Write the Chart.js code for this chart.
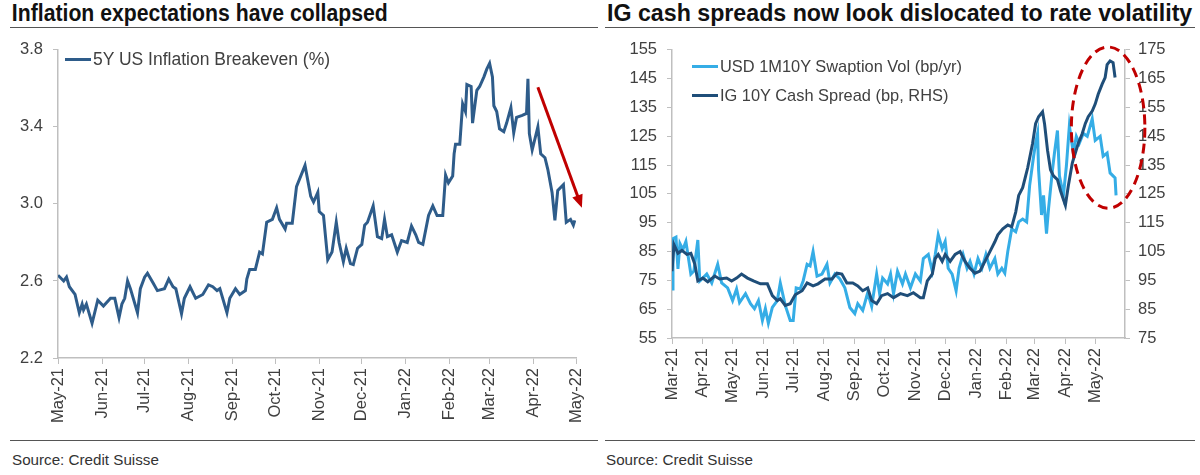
<!DOCTYPE html>
<html>
<head>
<meta charset="utf-8">
<script src="https://cdn.jsdelivr.net/npm/chart.js@4.4.0/dist/chart.umd.min.js"></script>
<style>
  html, body { margin: 0; padding: 0; background: #fff; }
  body { width: 1200px; height: 475px; position: relative; overflow: hidden; font-family: "Liberation Sans", Arial, sans-serif; color: #333; }
  .title { position: absolute; top: 0; height: 27px; line-height: 27px; border-bottom: 1.5px solid #555; overflow: visible; }
  .title span { display: inline-block; white-space: nowrap; transform-origin: 0 50%;
                font-family: "Liberation Sans", Arial, sans-serif; font-weight: bold; font-size: 23px; color: #111; padding-left: 2px; }
  .rule { position: absolute; top: 440px; height: 0; border-top: 1.5px solid #555; }
  .source { position: absolute; top: 451px; font-size: 15.2px; color: #333; }
  .box { position: absolute; top: 30px; width: 600px; height: 400px; }
  .legend { position: absolute; font-size: 17px; color: #404040; }
  .legend div { display: flex; align-items: center; height: 29px; white-space: nowrap; }
  .legend span.sw { display: inline-block; width: 26px; height: 3px; margin-right: 2px; }
</style>
</head>
<body>
<div class="title" style="left:10px;width:588px;"><span data-w="378">Inflation expectations have collapsed</span></div>
<div class="title" style="left:605px;width:590px;"><span data-w="587">IG cash spreads now look dislocated to rate volatility</span></div>

<div class="box" style="left:0;"><canvas id="leftChart"></canvas></div>
<div class="box" style="left:600px;"><canvas id="rightChart"></canvas></div>

<div class="legend" style="left:65px;top:45px;font-size:17.5px;">
  <div><span class="sw" style="background:#2E5C8A"></span>5Y US Inflation Breakeven (%)</div>
</div>
<div class="legend" style="left:692px;top:52px;font-size:16.4px;">
  <div><span class="sw" style="background:#35ADE6"></span>USD 1M10Y Swaption Vol (bp/yr)</div>
  <div><span class="sw" style="background:#1F4E79"></span>IG 10Y Cash Spread (bp, RHS)</div>
</div>

<div class="rule" style="left:10px;width:588px;"></div>
<div class="rule" style="left:605px;width:590px;"></div>
<div class="source" style="left:12px;">Source: Credit Suisse</div>
<div class="source" style="left:606px;">Source: Credit Suisse</div>

<script>
// --- Left chart data: 5Y US breakeven, days since 1 May 2021 ---
const beDays = [0,4,6,8,12,15,17,18,20,24,28,32,37,40,43,45,47,49,51,56,58,61,63,67,70,75,78,81,83,87,
  89,93,97,102,106,109,112,114,119,121,125,128,132,133,135,139,142,144,147,151,154,156,160,161,165,168,174,178,180,183,
  184,187,190,193,196,198,201,203,206,208,211,214,216,218,222,225,228,230,232,235,239,242,246,249,252,254,257,261,264,267,
  271,273,275,278,279,280,283,285,287,288,291,292,295,297,300,302,304,306,307,309,311,314,316,319,321,323,327,330,331,332,
  334,338,340,343,345,348,350,352,356,358,361,363,364];
const beValues = [2.63,2.60,2.62,2.57,2.53,2.435,2.48,2.45,2.48,2.38,2.50,2.47,2.51,2.51,2.41,2.48,2.51,2.60,2.56,2.435,
  2.56,2.62,2.64,2.59,2.55,2.56,2.61,2.57,2.56,2.43,2.51,2.57,2.51,2.53,2.58,2.57,2.55,2.56,2.435,2.51,
  2.56,2.53,2.55,2.61,2.66,2.66,2.75,2.74,2.905,2.92,2.98,2.92,2.87,2.90,2.90,3.09,3.20,3.04,3.01,3.06,
  2.96,2.94,2.71,2.75,2.905,2.80,2.70,2.77,2.69,2.685,2.77,2.79,2.89,2.905,2.99,2.83,2.82,2.92,2.83,2.84,
  2.75,2.81,2.80,2.885,2.84,2.80,2.79,2.94,2.99,2.94,2.94,3.15,3.11,3.145,3.26,3.31,3.31,3.52,3.48,3.62,
  3.61,3.42,3.59,3.61,3.66,3.70,3.73,3.66,3.51,3.48,3.39,3.375,3.42,3.50,3.37,3.45,3.46,3.47,3.65,3.365,
  3.28,3.40,3.26,3.24,3.18,3.06,2.915,3.07,3.10,2.905,2.92,2.89,2.915];
const leftMonths = ['May-21','Jun-21','Jul-21','Aug-21','Sep-21','Oct-21','Nov-21','Dec-21','Jan-22','Feb-22','Mar-22','Apr-22','May-22'];
const leftYTicks = [2.2, 2.6, 3.0, 3.4, 3.8];
// red arrow, in data units (day, %)
const leftArrow = [{x: 338, y: 3.606}, {x: 369, y: 2.98}];

// --- Right chart data: days since 1 Mar 2021 ---
const volDays = [0,1,4,6,8,11,14,16,19,22,26,28,31,35,40,46,50,56,61,65,68,74,79,83,87,91,94,97,101,106,
  109,114,119,122,125,129,132,136,139,142,146,151,156,159,164,169,174,179,184,187,192,197,201,206,209,212,217,220,223,227,
  232,235,240,245,250,253,258,262,265,268,272,275,278,282,286,289,293,297,300,304,308,312,316,320,325,328,332,335,338,342,
  346,349,353,357,360,364,366,368,369,372,374,377,379,383,385,388,390,394,397,400,404,407,410,414,418,423,426,431,434,438,
  441,446,447];
const volValues = [72,89.5,90,79,87.8,85.7,88.5,84,77.2,78.2,89,74.8,75.8,77.2,74.1,80.6,74.1,72.4,68,72,
  67.3,70.4,66.9,65.2,68,61.1,65.2,60.1,65.6,68,74.1,66.3,61.1,61.1,72.4,72,74.8,80.6,80,85,
  76.5,77.2,80.6,74.1,77.2,75.5,72.4,65.6,63.5,66.9,64.6,70.7,66,77.2,70.4,75.8,73.8,77.2,70.4,78.2,
  73.8,77.2,72.4,77.2,74.8,82.6,84,78.2,84,90.8,86,88.5,79.2,77.2,71.4,79.2,84,79.2,81.6,77.2,
  82.6,79.2,84,79.2,82.6,77.2,79.2,77.5,85,92.9,91.9,95.3,96.3,95.3,107.9,118.1,122.6,126,113.4,97.7,
  104.5,91.2,99.7,113.4,119.2,127,111.3,104.5,114.7,128.7,119.2,125,122.6,126,125,131.1,123.6,125,118.1,119.2,
  112.3,110.6,104.5];
const spreadDays = [0,2,6,10,15,19,23,26,31,36,43,48,55,60,65,70,76,82,89,96,101,106,109,114,119,124,131,136,142,147,
  154,161,166,171,176,182,187,192,197,201,206,211,217,223,230,237,243,250,253,257,262,265,268,272,275,280,285,290,295,300,
  305,310,315,320,325,328,333,338,342,346,349,353,356,358,363,366,369,373,375,378,381,384,388,391,394,396,399,403,406,409,
  413,416,419,423,426,429,433,436,438,441,444,446];
const spreadValues = [98.2,107.4,104.4,105.4,104,104.4,100.6,94.8,95.8,94.5,96.5,95.5,95.8,94.8,95.8,97.2,95.8,94.8,93.8,93.8,
  89.7,88,88.6,86.3,86.9,90,91.4,94.1,93.1,93.8,95.5,95.5,97.5,97.2,94.1,94.1,93.1,91.4,92.4,88,
  86.9,89.7,90.4,89,90.4,89.7,90.7,89,89,94.8,97.2,102.6,104,101.6,104,101.6,104,105,101.6,99.2,
  97.5,98.2,101.6,105,108.4,110.8,112.9,114.2,113.6,118.7,124.5,127.2,131.3,134,142.6,149.4,151.8,153.5,149.4,140.2,
  133.4,131.3,130,126.2,123.1,121.1,127.9,135.8,139.2,142.6,146,149.4,151.8,153.8,156.2,159.6,163.1,165.4,169.9,171.2,
  170.6,165.4];
const rightMonths = ['Mar-21','Apr-21','May-21','Jun-21','Jul-21','Aug-21','Sep-21','Oct-21','Nov-21','Dec-21','Jan-22','Feb-22','Mar-22','Apr-22','May-22'];
// red dashed ellipse, in data units (day, left-axis value)
const rightEllipse = {x: 439, y: 128, rx: 37, ry: 28};

// squeeze the bold titles to the condensed width of the original
document.querySelectorAll('.title span').forEach(el => {
    const target = +el.dataset.w;
    el.style.transform = `scaleX(${target / el.offsetWidth})`;
});

const DAY = 86400000;
// day offsets of each month start from the first label's month
function monthStarts(year, month0, count) {
    const base = Date.UTC(year, month0, 1);
    const out = [];
    for (let k = 0; k < count; k++) out.push((Date.UTC(year, month0 + k, 1) - base) / DAY);
    return out;
}
const leftTickDays = monthStarts(2021, 4, leftMonths.length);
const rightTickDays = monthStarts(2021, 2, rightMonths.length);

const AXIS = '#BFBFBF';
const TXT = '#404040';
Chart.defaults.font.family = '"Liberation Sans", Arial, sans-serif';
Chart.defaults.font.size = 16.5;
Chart.defaults.color = TXT;

function xScale(tickDays, labels, max, height) {
    return {
        type: 'linear', min: 0, max: max,
        afterBuildTicks: s => { s.ticks = tickDays.map(v => ({value: v})); },
        afterFit: s => { s.height = height; },
        ticks: { autoSkip: false, minRotation: 90, maxRotation: 90, padding: 4,
                 callback: (v, i) => labels[i] },
        grid: { drawOnChartArea: false, tickLength: 6, color: AXIS },
        border: { color: AXIS, width: 1.5 }
    };
}

const arrowPlugin = {
    id: 'arrow',
    afterDatasetsDraw(chart) {
        const {ctx, scales: {x, y}} = chart;
        const x0 = x.getPixelForValue(leftArrow[0].x), y0 = y.getPixelForValue(leftArrow[0].y);
        const x1 = x.getPixelForValue(leftArrow[1].x), y1 = y.getPixelForValue(leftArrow[1].y);
        const ang = Math.atan2(y1 - y0, x1 - x0);
        const head = 14;
        ctx.save();
        ctx.strokeStyle = '#C00000';
        ctx.fillStyle = '#C00000';
        ctx.lineWidth = 3;
        ctx.beginPath();
        ctx.moveTo(x0, y0);
        ctx.lineTo(x1 - Math.cos(ang) * head * 0.8, y1 - Math.sin(ang) * head * 0.8);
        ctx.stroke();
        ctx.beginPath();
        ctx.moveTo(x1, y1);
        ctx.lineTo(x1 - head * Math.cos(ang - 0.4), y1 - head * Math.sin(ang - 0.4));
        ctx.lineTo(x1 - head * Math.cos(ang + 0.4), y1 - head * Math.sin(ang + 0.4));
        ctx.closePath();
        ctx.fill();
        ctx.restore();
    }
};

const ellipsePlugin = {
    id: 'ellipse',
    afterDatasetsDraw(chart) {
        const {ctx, scales: {x, y}} = chart;
        const e = rightEllipse;
        const cx = x.getPixelForValue(e.x), cy = y.getPixelForValue(e.y);
        const rx = Math.abs(x.getPixelForValue(e.x + e.rx) - cx);
        const ry = Math.abs(y.getPixelForValue(e.y + e.ry) - cy);
        ctx.save();
        ctx.strokeStyle = '#C00000';
        ctx.lineWidth = 3;
        ctx.setLineDash([10, 6]);
        ctx.beginPath();
        ctx.ellipse(cx, cy, rx, ry, 0, 0, Math.PI * 2);
        ctx.stroke();
        ctx.restore();
    }
};

new Chart(document.getElementById('leftChart'), {
    type: 'line',
    data: {
        datasets: [{
            label: '5Y US Inflation Breakeven (%)',
            data: beDays.map((d, i) => ({x: d, y: beValues[i]})),
            borderColor: '#2E5C8A', borderWidth: 3, pointRadius: 0, tension: 0, fill: false
        }]
    },
    options: {
        responsive: true, maintainAspectRatio: false, animation: false,
        layout: { padding: { top: 15, right: 22, left: 0, bottom: 0 } },
        plugins: { legend: { display: false }, tooltip: { enabled: false } },
        scales: {
            x: xScale(leftTickDays, leftMonths, 365, 72),
            y: {
                min: 2.2, max: 3.8,
                afterBuildTicks: s => { s.ticks = leftYTicks.map(v => ({value: v})); },
                afterFit: s => { s.width = 58; },
                ticks: { padding: 10, callback: v => v.toFixed(1) },
                grid: { drawOnChartArea: false, tickLength: 5, color: AXIS },
                border: { color: AXIS, width: 1.5 }
            }
        }
    },
    plugins: [arrowPlugin]
});

new Chart(document.getElementById('rightChart'), {
    type: 'line',
    data: {
        datasets: [{
            label: 'USD 1M10Y Swaption Vol (bp/yr)',
            data: volDays.map((d, i) => ({x: d, y: volValues[i]})),
            borderColor: '#35ADE6', borderWidth: 3, pointRadius: 0, tension: 0, fill: false,
            yAxisID: 'y', order: 2
        }, {
            label: 'IG 10Y Cash Spread (bp, RHS)',
            data: spreadDays.map((d, i) => ({x: d, y: spreadValues[i]})),
            borderColor: '#1F4E79', borderWidth: 3, pointRadius: 0, tension: 0, fill: false,
            yAxisID: 'y2', order: 1
        }]
    },
    options: {
        responsive: true, maintainAspectRatio: false, animation: false,
        layout: { padding: { top: 15, right: 0, left: 0, bottom: 0 } },
        plugins: { legend: { display: false }, tooltip: { enabled: false } },
        scales: {
            x: xScale(rightTickDays, rightMonths, 456, 92),
            y: {
                position: 'left', min: 55, max: 155,
                ticks: { stepSize: 10, padding: 10 },
                afterFit: s => { s.width = 72; },
                grid: { drawOnChartArea: false, tickLength: 5, color: AXIS },
                border: { color: AXIS, width: 1.5 }
            },
            y2: {
                position: 'right', min: 75, max: 175,
                ticks: { stepSize: 10, padding: 8 },
                afterFit: s => { s.width = 75; },
                grid: { drawOnChartArea: false, tickLength: 5, color: AXIS },
                border: { color: AXIS, width: 1.5 }
            }
        }
    },
    plugins: [ellipsePlugin]
});
</script>
</body>
</html>
